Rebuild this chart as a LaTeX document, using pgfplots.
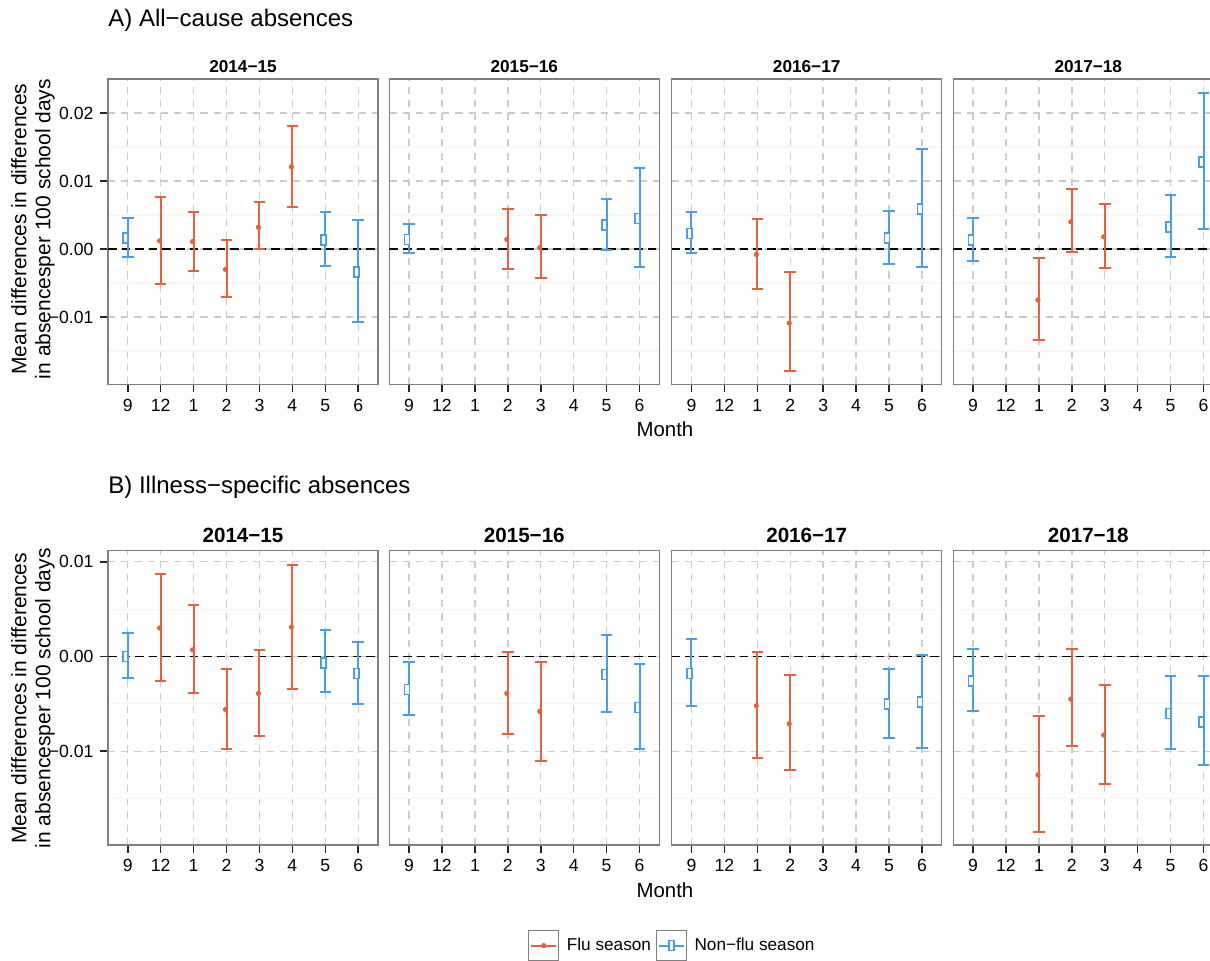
\documentclass[border=0pt]{standalone}
\usepackage{pgfplots}
\pgfplotsset{compat=1.18}
\usepackage{fontspec}
\setmainfont{Liberation Sans}

\definecolor{flured}{RGB}{232,97,62}
\definecolor{nfblue}{RGB}{74,157,232}
\definecolor{panelframe}{RGB}{128,128,128}

% narrow open box used for the non-flu estimates
\pgfdeclareplotmark{vbox}{%
  \pgfpathrectangle{\pgfpoint{-0.5\pgfplotmarksize}{-\pgfplotmarksize}}{\pgfpoint{\pgfplotmarksize}{2\pgfplotmarksize}}%
  \pgfusepathqfillstroke}

\pgfplotsset{
  table/ci/.style={x=x, y=y,
    y error plus expr=\thisrow{hi}-(\thisrow{y}),
    y error minus expr=\thisrow{y}-(\thisrow{lo})},
  facet/.style={
    scale only axis, width=135pt,
    xmin=0.4, xmax=8.6,
    xtick={1,...,8}, xticklabels={9,12,1,2,3,4,5,6},
    xtick pos=left, ytick pos=left,
    tick align=outside, major tick length=3.8pt,
    tick style={black!85, line width=0.8pt},
    axis line style={panelframe, line width=0.7pt},
    scaled y ticks=false,
    xmajorgrids, ymajorgrids, yminorgrids,
    major grid style={black!20, line width=0.7pt, dash pattern=on 3.6pt off 3pt},
    minor grid style={black!4, line width=0.6pt},
    minor tick length=0pt,
    ticklabel style={font=\fontsize{8.8}{10}\selectfont, text=black},
    /pgf/number format/assume math mode=true,
    every axis title/.style={at={(0.5,1)}, anchor=base},
  },
  rowA/.style={facet, height=152.6pt, ymin=-0.0199, ymax=0.0250,
    ytick={-0.01,0,0.01,0.02}, minor ytick={-0.015,-0.005,0.005,0.015},
    title style={yshift=3.4pt, font=\bfseries\fontsize{8.6}{10}\selectfont}},
  rowB/.style={facet, height=147.3pt, ymin=-0.0199, ymax=0.0112,
    ytick={-0.01,0,0.01}, minor ytick={-0.015,-0.005,0.005},
    title style={yshift=4pt, font=\bfseries\fontsize{10.3}{12}\selectfont}},
  inner/.style={yticklabels={}, y tick style={draw=none}},
  ylab/.style={ylabel={Mean differences in differences\\in absencesper 100 school days},
    ylabel style={at={(axis description cs:-0.2778,#1)}, anchor=center, align=center,
      font=\fontsize{10.5}{12}\selectfont}},
  xlab/.style={xlabel={Month},
    xlabel style={at={(axis description cs:2.063,#1)}, anchor=base,
      font=\fontsize{10.2}{12}\selectfont}},
  zero/.style={black, line width=0.75pt, dash pattern=on 4.3pt off 2.5pt, forget plot},
  flu/.style={forget plot, only marks, color=flured, mark=*, mark size=1.1pt,
    mark options={xshift=-0.5pt},
    error bars/.cd, y dir=both, y explicit, error mark=|,
    error bar style={line width=1pt},
    error mark options={mark size=2.9pt, line width=1pt}},
  nonflu/.style={forget plot, only marks, color=nfblue, mark=vbox, mark size=2.5pt,
    mark options={xshift=-1pt, fill=white, line width=0.8pt},
    error bars/.cd, y dir=both, y explicit, error mark=|,
    error bar style={line width=1pt},
    error mark options={mark size=2.9pt, line width=1pt}},
}

\begin{document}
\begin{tikzpicture}
\useasboundingbox (0,0) rectangle (605pt,480.5pt);

\node[anchor=base west, inner sep=0pt, font=\fontsize{12}{14}\selectfont] at (54pt,467.15pt) {A) All−cause absences};
\node[anchor=base west, inner sep=0pt, font=\fontsize{12}{14}\selectfont] at (54pt,233.5pt) {B) Illness−specific absences};

% ---------------- A) all-cause ----------------
\begin{axis}[rowA, at={(54pt,288.35pt)}, anchor=south west, title={2014−15},
  yticklabels={−0.01,0.00,0.01,0.02}, ylab=0.5087, xlab=-0.1716]
\addplot[zero] coordinates {(0.4,0) (8.6,0)};
\addplot[flu] table[ci] {
x y lo hi
2 0.0012 -0.0052 0.0077
3 0.0011 -0.0032 0.0054
4 -0.0030 -0.0070 0.0013
5 0.0032 0.0000 0.0069
6 0.0121 0.0062 0.0181
};
\addplot[nonflu] table[ci] {
x y lo hi
1 0.0016 -0.0012 0.0046
7 0.0013 -0.0025 0.0054
8 -0.0034 -0.0108 0.0042
};
\end{axis}

\begin{axis}[rowA, inner, at={(194.65pt,288.35pt)}, anchor=south west, title={2015−16}]
\addplot[zero] coordinates {(0.4,0) (8.6,0)};
\addplot[flu] table[ci] {
x y lo hi
4 0.0014 -0.0029 0.0059
5 0.0002 -0.0043 0.0050
};
\addplot[nonflu] table[ci] {
x y lo hi
1 0.0014 -0.0006 0.0037
7 0.0035 -0.0001 0.0073
8 0.0045 -0.0027 0.0119
};
\end{axis}

\begin{axis}[rowA, inner, at={(335.85pt,288.35pt)}, anchor=south west, title={2016−17}]
\addplot[zero] coordinates {(0.4,0) (8.6,0)};
\addplot[flu] table[ci] {
x y lo hi
3 -0.0008 -0.0059 0.0044
4 -0.0109 -0.0179 -0.0034
};
\addplot[nonflu] table[ci] {
x y lo hi
1 0.0023 -0.0006 0.0054
7 0.0016 -0.0022 0.0056
8 0.0059 -0.0026 0.0147
};
\end{axis}

\begin{axis}[rowA, inner, at={(476.65pt,288.35pt)}, anchor=south west, title={2017−18}]
\addplot[zero] coordinates {(0.4,0) (8.6,0)};
\addplot[flu] table[ci] {
x y lo hi
3 -0.0075 -0.0134 -0.0013
4 0.0040 -0.0004 0.0088
5 0.0018 -0.0028 0.0066
};
\addplot[nonflu] table[ci] {
x y lo hi
1 0.0013 -0.0018 0.0046
7 0.0032 -0.0012 0.0079
8 0.0128 0.0029 0.0230
};
\end{axis}

% ---------------- B) illness-specific ----------------
\begin{axis}[rowB, at={(54pt,58pt)}, anchor=south west, title={2014−15},
  yticklabels={−0.01,0.00,0.01}, ylab=0.4978, xlab=-0.1778,
  legend style={at={(2.0944,-0.3417)}, anchor=center, draw=none, fill=none,
    legend columns=2, font=\fontsize{8.6}{10}\selectfont,
    /tikz/every even column/.append style={column sep=0.5pt}},
  legend cell align=left]
\addlegendimage{legend image code/.code={
  \draw[panelframe, line width=0.5pt, fill=white] (0pt,-7.4pt) rectangle (14.8pt,7.4pt);
  \draw[flured, line width=1pt] (1.2pt,0pt) -- (13.6pt,0pt);
  \fill[flured] (7.4pt,0pt) circle (1.1pt);
  \path (16.8pt,0pt);}}
\addlegendentry{Flu season}
\addlegendimage{legend image code/.code={
  \draw[panelframe, line width=0.5pt, fill=white] (0pt,-7.4pt) rectangle (14.8pt,7.4pt);
  \draw[nfblue, line width=1pt] (1.2pt,0pt) -- (13.6pt,0pt);
  \draw[nfblue, line width=0.8pt, fill=white] (6.2pt,-2.5pt) rectangle (8.6pt,2.5pt);
  \path (16.8pt,0pt);}}
\addlegendentry{Non−flu season}
\addplot[zero] coordinates {(0.4,0) (8.6,0)};
\addplot[flu] table[ci] {
x y lo hi
2 0.0030 -0.0026 0.0087
3 0.0007 -0.0039 0.0054
4 -0.0056 -0.0098 -0.0013
5 -0.0039 -0.0084 0.0007
6 0.0031 -0.0034 0.0097
};
\addplot[nonflu] table[ci] {
x y lo hi
1 0.0000 -0.0023 0.0025
7 -0.0007 -0.0037 0.0028
8 -0.0018 -0.0050 0.0015
};
\end{axis}

\begin{axis}[rowB, inner, at={(194.65pt,58pt)}, anchor=south west, title={2015−16}]
\addplot[zero] coordinates {(0.4,0) (8.6,0)};
\addplot[flu] table[ci] {
x y lo hi
4 -0.0039 -0.0082 0.0005
5 -0.0058 -0.0110 -0.0006
};
\addplot[nonflu] table[ci] {
x y lo hi
1 -0.0035 -0.0062 -0.0006
7 -0.0019 -0.0059 0.0023
8 -0.0054 -0.0098 -0.0008
};
\end{axis}

\begin{axis}[rowB, inner, at={(335.85pt,58pt)}, anchor=south west, title={2016−17}]
\addplot[zero] coordinates {(0.4,0) (8.6,0)};
\addplot[flu] table[ci] {
x y lo hi
3 -0.0052 -0.0107 0.0005
4 -0.0071 -0.0120 -0.0020
};
\addplot[nonflu] table[ci] {
x y lo hi
1 -0.0018 -0.0052 0.0018
7 -0.0050 -0.0086 -0.0013
8 -0.0048 -0.0097 0.0002
};
\end{axis}

\begin{axis}[rowB, inner, at={(476.65pt,58pt)}, anchor=south west, title={2017−18}]
\addplot[zero] coordinates {(0.4,0) (8.6,0)};
\addplot[flu] table[ci] {
x y lo hi
3 -0.0125 -0.0185 -0.0063
4 -0.0045 -0.0095 0.0008
5 -0.0083 -0.0135 -0.0030
};
\addplot[nonflu] table[ci] {
x y lo hi
1 -0.0026 -0.0058 0.0008
7 -0.0060 -0.0098 -0.0021
8 -0.0069 -0.0115 -0.0021
};
\end{axis}
\end{tikzpicture}
\end{document}
